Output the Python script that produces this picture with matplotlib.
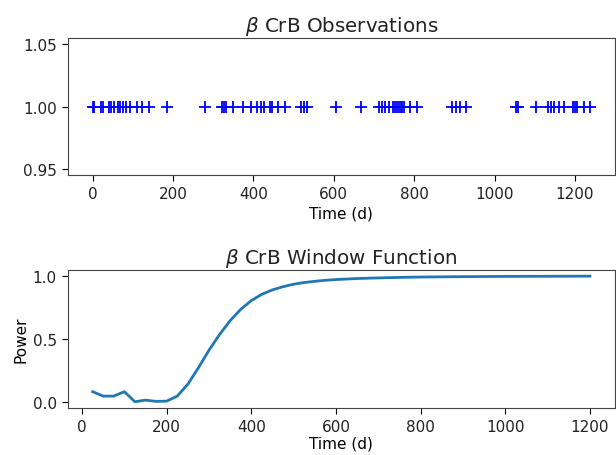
import matplotlib
matplotlib.use("Agg")
import matplotlib.pyplot as plt

obs_t = [0, 4, 22, 27, 40, 45, 52, 62, 68, 76, 84, 92, 110, 124, 140, 184,
         279, 322, 327, 333, 350, 374, 394, 410, 418, 426, 440, 446, 460, 478,
         519, 526, 533, 606,
         668, 712, 720, 728, 737, 748, 753, 758, 762, 766, 770, 774, 790, 806,
         893, 903, 915, 928,
         1052, 1058, 1102, 1132, 1140, 1148, 1160, 1172, 1194, 1200, 1206, 1222, 1237]
obs_y = [1.0] * len(obs_t)

# window function
win_t = [25, 50, 75, 100, 125, 150, 175, 200, 225, 250, 275, 300, 325, 350,
         375, 400, 425, 450, 475, 500, 525, 550, 575, 600, 650, 700, 750,
         800, 900, 1000, 1100, 1200]
win_p = [0.08, 0.045, 0.045, 0.08, 0.0, 0.013, 0.003, 0.005, 0.045, 0.14,
         0.27, 0.41, 0.535, 0.645, 0.735, 0.805, 0.855, 0.89, 0.915, 0.935,
         0.948, 0.958, 0.966, 0.972, 0.98, 0.985, 0.989, 0.992, 0.995, 0.997,
         0.998, 0.999]

plt.rcParams['font.size'] = 11
plt.rcParams['xtick.major.size'] = 4.5
plt.rcParams['ytick.major.size'] = 4.5
plt.rcParams['axes.edgecolor'] = '#444444'
plt.rcParams['text.color'] = '#222222'
plt.rcParams['xtick.labelcolor'] = '#222222'
plt.rcParams['ytick.labelcolor'] = '#222222'

fig = plt.figure(figsize=(6.16, 4.56), dpi=100)

ax1 = fig.add_axes([0.110, 0.614, 0.888, 0.300])
ax1.plot(obs_t, obs_y, 'b+', markersize=8, markeredgewidth=1.3)
ax1.set_title(r'$\beta$ CrB Observations', fontsize=14.3, pad=5)
ax1.set_xlabel('Time (d)', labelpad=3)

ax2 = fig.add_axes([0.110, 0.103, 0.888, 0.303])
ax2.plot(win_t, win_p, linewidth=2)
ax2.set_title(r'$\beta$ CrB Window Function', fontsize=14.3, pad=5)
ax2.set_xlabel('Time (d)', labelpad=1)
ax2.set_ylabel('Power', labelpad=3)

fig.savefig('out.png', dpi=100)
